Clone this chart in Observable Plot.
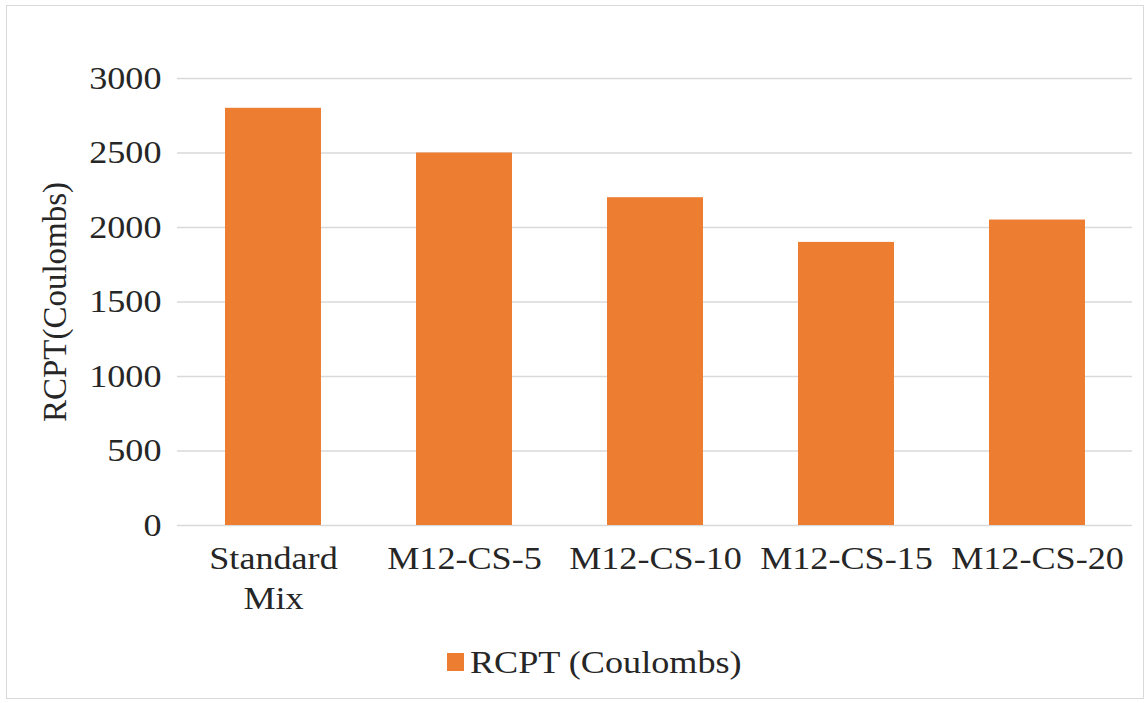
<!DOCTYPE html>
<html>
<head>
<meta charset="utf-8">
<script src="https://cdn.jsdelivr.net/npm/d3@7"></script>
<script src="https://cdn.jsdelivr.net/npm/@observablehq/plot@0.6"></script>
<style>
  html, body { margin: 0; padding: 0; background: #fff; }
  body { width: 1146px; height: 703px; position: relative; overflow: hidden; font-family: "Liberation Serif", "Tinos", "DejaVu Serif", serif; }
  #frame { position: absolute; left: 6px; top: 5px; width: 1138px; height: 694px; border: 1px solid #d9d9d9; box-sizing: border-box; pointer-events: none; }
  #chart { position: absolute; left: 0; top: 0; }
  #chart svg text { font-family: "Liberation Serif", "Tinos", "DejaVu Serif", serif; }
  #legend { position: absolute; left: 23px; top: 644px; width: 1146px; text-align: center; font-size: 32px; color: #262626; }
  #legend .sw { display: inline-block; width: 17px; height: 18px; background: #ED7D31; margin-right: 6px; vertical-align: 2px; }
  #legend .lt { display: inline-block; transform: scaleX(1.13); transform-origin: left center; margin-right: 34px; }
</style>
</head>
<body>
<div id="chart"></div>
<div id="legend"><span class="sw"></span><span class="lt">RCPT (Coulombs)</span></div>
<div id="frame"></div>
<script>
const categories = ["Standard Mix", "M12-CS-5", "M12-CS-10", "M12-CS-15", "M12-CS-20"];
const categoryLabels = ["Standard\nMix", "M12-CS-5", "M12-CS-10", "M12-CS-15", "M12-CS-20"];
const rcpt = [2800, 2500, 2200, 1900, 2050];
const yTicks = [0, 500, 1000, 1500, 2000, 2500, 3000];
const seriesName = "RCPT (Coulombs)";
const yTitle = "RCPT(Coulombs)";

const data = categories.map((c, i) => ({category: c, value: rcpt[i]}));
const labelOf = new Map(categories.map((c, i) => [c, categoryLabels[i]]));

const chart = Plot.plot({
  width: 1146,
  height: 630,
  marginLeft: 177,
  marginRight: 14,
  marginTop: 78,
  marginBottom: 105,
  style: {fontFamily: "Liberation Serif, Tinos, DejaVu Serif, serif", fontSize: "32px", color: "#262626", background: "transparent"},
  x: {domain: categories, paddingInner: 0.5, paddingOuter: 0.25, label: null},
  y: {domain: [0, 3000], label: null},
  marks: [
    Plot.gridY(yTicks, {stroke: "#d9d9d9", strokeOpacity: 1, strokeWidth: 1.5}),
    Plot.barY(data, {x: "category", y: "value", fill: "#ED7D31"}),
    Plot.axisY(yTicks, {tickSize: 0, tickPadding: 16, fontSize: 32, tickFormat: d => String(d)}),
    Plot.axisX({tickSize: 0, tickPadding: 15, fontSize: 32, lineHeight: 1.25, tickFormat: d => labelOf.get(d)}),
    Plot.text([yTitle], {frameAnchor: "left", textAnchor: "middle", dx: -122, rotate: -90, fontSize: 33, fill: "#262626"})
  ]
});

document.getElementById("chart").appendChild(chart);

// The reference's serif text is slightly stretched horizontally; mimic that
// by wrapping each (non-rotated) text in a group scaled about its anchor.
const NS = "http://www.w3.org/2000/svg";
chart.querySelectorAll("text").forEach(t => {
  const tr = t.getAttribute("transform") || "";
  if (/rotate/.test(tr)) return;
  const b = t.getBBox();
  const cons = t.transform.baseVal.consolidate();
  const m = cons ? cons.matrix : {a: 1, b: 0, c: 0, d: 1, e: 0, f: 0};
  const anchor = getComputedStyle(t).textAnchor;
  const lx = anchor === "end" ? b.x + b.width : anchor === "start" ? b.x : b.x + b.width / 2;
  const px = m.a * lx + m.c * b.y + m.e;
  const g = document.createElementNS(NS, "g");
  g.setAttribute("transform", `translate(${px},0) scale(1.13,1) translate(${-px},0)`);
  t.parentNode.insertBefore(g, t);
  g.appendChild(t);
});
</script>
</body>
</html>
